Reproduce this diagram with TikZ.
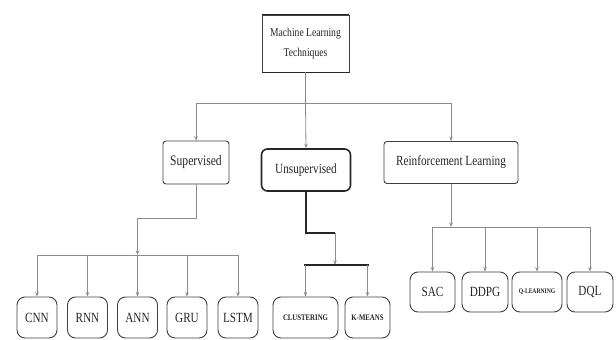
\documentclass[tikz,border=0pt]{standalone}
\usepackage{fontspec}
\setmainfont{Liberation Serif}
\newfontfamily\cond[FakeStretch=0.8]{Liberation Serif}
\usetikzlibrary{arrows.meta,calc}
\begin{document}
\begin{tikzpicture}[x=1pt,y=-1pt,
  conn/.style={draw=black!45, line width=0.8pt},
  arr/.style={conn, -{Stealth[length=4.5pt,width=3.5pt]}},
  thickconn/.style={draw=black!85, line width=1.6pt},
  box/.style={draw=black!75, line width=0.9pt, text=black!85, inner sep=0pt, font=\cond},
  mid/.style={box, rounded corners=3pt, minimum height=43pt, font=\cond\fontsize{14.5}{16}\selectfont},
  leaf/.style={box, rounded corners=8pt, minimum height=41pt, font=\cond\fontsize{14}{16}\selectfont},
  smallleaf/.style={leaf, font=\cond\fontsize{8.5}{9}\selectfont\bfseries}
]
\useasboundingbox (0,0) rectangle (616,340);
\fill[white] (0,0) rectangle (616,340);

% root
\node[box, minimum width=87pt, minimum height=57pt, align=center, font=\cond\fontsize{12}{20}\selectfont] (root) at (305.5,43.5) {Machine Learning\\Techniques};
\draw[line width=1.6pt, black!85] (root.north west) -- (root.north east);
\draw[line width=1.6pt, black!85] (root.south west) -- (root.south east);

% level 1
\node[mid, minimum width=66pt] (sup) at (196,162.5) {Supervised};
\node[mid, minimum width=89pt, minimum height=42pt, rounded corners=6pt, line width=1.6pt, draw=black!85, font=\cond\fontsize{14}{16}\selectfont] (uns) at (306,170) {Unsupervised};
\node[mid, minimum width=134pt, minimum height=42pt, font=\cond\fontsize{14}{16}\selectfont] (rein) at (451,162.5) {Reinforcement Learning};

% level 2 supervised
\node[leaf, minimum width=40pt] (cnn) at (37,317.5) {CNN};
\node[leaf, minimum width=40pt] (rnn) at (87.5,317.5) {RNN};
\node[leaf, minimum width=40pt] (ann) at (137.5,317.5) {ANN};
\node[leaf, minimum width=40pt] (gru) at (187,317.5) {GRU};
\node[leaf, minimum width=40pt] (lstm) at (238,317.5) {LSTM};

% level 2 unsupervised
\node[smallleaf, minimum width=65pt] (clu) at (305.5,317.5) {CLUSTERING};
\node[smallleaf, minimum width=45pt] (km) at (367.5,317.5) {K-MEANS};

% level 2 reinforcement
\node[leaf, minimum width=45pt, minimum height=40pt] (sac) at (432.5,292) {SAC};
\node[leaf, minimum width=46pt, minimum height=40pt] (ddpg) at (485,292) {DDPG};
\node[smallleaf, minimum width=50pt, minimum height=40pt, font=\cond\fontsize{7}{8}\selectfont\bfseries] (ql) at (537,292) {Q-LEARNING};
\node[leaf, minimum width=46pt, minimum height=40pt] (dql) at (590,292) {DQL};

% root bus
\coordinate (b0) at (305.5,103);
\draw[conn] (root.south) -- (b0);
\draw[conn] (sup.north |- b0) -- (rein.north |- b0);
\draw[arr] (sup.north |- b0) -- (sup.north);
\draw[arr] (b0) -- (uns.north);
\draw[arr] (rein.north |- b0) -- (rein.north);

% supervised branch
\coordinate (s1) at (196,218);
\coordinate (s2) at (137.5,218);
\coordinate (sb) at (137.5,255);
\draw[conn] (sup.south) -- (s1) -- (s2);
\draw[arr] (s2) -- (sb);
\draw[conn] (cnn.north |- sb) -- (lstm.north |- sb);
\foreach \n in {cnn,rnn,ann,gru,lstm} \draw[arr] (\n.north |- sb) -- (\n.north);

% unsupervised branch
\coordinate (u1) at (306,233);
\coordinate (u2) at (335,233);
\coordinate (ub) at (335,265);
\draw[thickconn] (uns.south) -- (u1) -- (u2);
\draw[arr] (u2) -- (ub);
\draw[thickconn] ($(clu.north |- ub)+(-2,0)$) -- ($(km.north |- ub)+(1,0)$);
\foreach \n in {clu,km} \draw[arr] (\n.north |- ub) -- (\n.north);

% reinforcement branch
\coordinate (rb) at (451,227);
\draw[arr] (rein.south) -- (rb);
\draw[conn] (sac.north |- rb) -- (dql.north |- rb);
\foreach \n in {sac,ddpg,ql,dql} \draw[arr] (\n.north |- rb) -- (\n.north);
\end{tikzpicture}
\end{document}
